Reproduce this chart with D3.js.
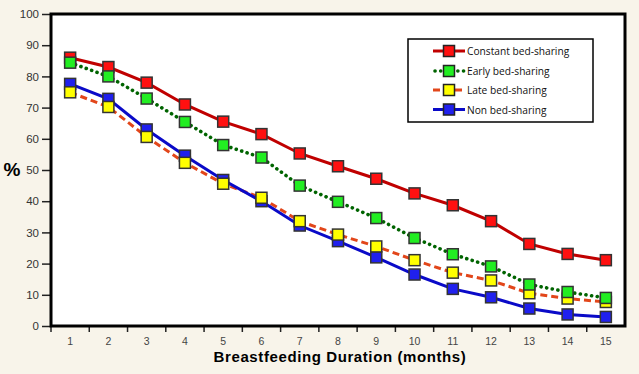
<!DOCTYPE html>
<html>
<head>
<meta charset="utf-8">
<script src="https://cdn.jsdelivr.net/npm/d3@7"></script>
<style>
  body { margin: 0; background: #f8f4ea; }
  svg { display: block; }
  .tick text { font-family: "Liberation Sans", Arial, sans-serif; fill: #333; }
</style>
</head>
<body>
<svg id="chart" width="639" height="374"></svg>
<script>
// months on the x axis
var months = [1, 2, 3, 4, 5, 6, 7, 8, 9, 10, 11, 12, 13, 14, 15];
var yTicks = [0, 10, 20, 30, 40, 50, 60, 70, 80, 90, 100];

// percent still breastfeeding
var constantBed = [86, 83, 78, 71, 65.5, 61.5, 55.3, 51.2, 47.2, 42.5, 38.7, 33.6, 26.3, 23.1, 21.1];
var earlyBed    = [84.4, 80, 72.9, 65.4, 58, 54, 45, 39.8, 34.6, 28.2, 23, 19.1, 13.3, 10.9, 9];
var lateBed     = [74.9, 70.2, 60.6, 52.3, 45.6, 41.1, 33.6, 29.3, 25.5, 21.1, 17.1, 14.6, 10.5, 8.8, 7.7];
var nonBed      = [77.6, 72.8, 63, 54.6, 46.8, 40, 32.2, 27.2, 22, 16.5, 11.9, 9.2, 5.6, 3.7, 2.9];

var series = [
  { name: "Constant bed-sharing", values: constantBed, line: "#c00000", fill: "#ff1010", dash: null },
  { name: "Early bed-sharing", values: earlyBed, line: "#006400", fill: "#22ee22", dash: "0.1 5.6" },
  { name: "Late bed-sharing", values: lateBed, line: "#e2461a", fill: "#ffff00", dash: "7 4" },
  { name: "Non bed-sharing", values: nonBed, line: "#0a0ac8", fill: "#2020ee", dash: null }
];

var svg = d3.select("#chart");
var margin = { left: 51, top: 14, right: 14, bottom: 48 };
var width = 639 - margin.left - margin.right;
var height = 374 - margin.top - margin.bottom;

var x = d3.scaleBand().domain(months).range([0, width]);
var y = d3.scaleLinear().domain([0, 100]).range([height, 0]);

var g = svg.append("g").attr("transform", "translate(" + margin.left + "," + margin.top + ")");

g.append("rect")
  .attr("width", width).attr("height", height)
  .attr("fill", "#fff");

// y axis
var yAxis = g.append("g")
  .call(d3.axisLeft(y).tickValues(yTicks).tickSize(9).tickPadding(3));
yAxis.select(".domain").remove();
yAxis.selectAll(".tick line").attr("stroke", "#222").attr("stroke-width", 1.5);
yAxis.selectAll(".tick text").style("font-size", "11.5px");

// x axis: ticks on band boundaries, labels in band centres
var xAxis = g.append("g")
  .attr("transform", "translate(0," + height + ")")
  .call(d3.axisBottom(x).tickSize(0).tickPadding(12));
xAxis.select(".domain").remove();
xAxis.selectAll(".tick text").style("font-size", "10.5px").style("fill", "#444");
g.append("g")
  .selectAll("line")
  .data(months)
  .enter().append("line")
  .attr("x1", function (d) { return x(d); })
  .attr("x2", function (d) { return x(d); })
  .attr("y1", height).attr("y2", height + 6)
  .attr("stroke", "#222").attr("stroke-width", 1.5);

var line = d3.line()
  .x(function (d, i) { return x(months[i]) + x.bandwidth() / 2; })
  .y(function (d) { return y(d); });

// lines: orange dashed sits under the blue one
var lineOrder = [0, 2, 1, 3];
lineOrder.forEach(function (k) {
  var s = series[k];
  g.append("path")
    .datum(s.values)
    .attr("fill", "none")
    .attr("stroke", s.line)
    .attr("stroke-width", k === 1 ? 3.6 : 3)
    .attr("stroke-linecap", k === 1 ? "round" : "butt")
    .attr("stroke-dasharray", s.dash)
    .attr("d", line);
});

// markers: green over yellow over blue
var markOrder = [0, 3, 2, 1];
var ms = 11;
markOrder.forEach(function (k) {
  var s = series[k];
  g.append("g")
    .selectAll("rect")
    .data(s.values)
    .enter().append("rect")
    .attr("x", function (d, i) { return x(months[i]) + x.bandwidth() / 2 - ms / 2; })
    .attr("y", function (d) { return y(d) - ms / 2; })
    .attr("width", ms).attr("height", ms)
    .attr("fill", s.fill)
    .attr("stroke", "#333")
    .attr("stroke-width", 1.5);
});

// frame
g.append("rect")
  .attr("width", width).attr("height", height)
  .attr("fill", "none")
  .attr("stroke", "#000")
  .attr("stroke-width", 3);

// legend
var legend = g.append("g").attr("transform", "translate(" + (408 - margin.left) + "," + (39 - margin.top) + ")");
legend.append("rect")
  .attr("width", 185).attr("height", 83)
  .attr("fill", "#fff").attr("stroke", "#000").attr("stroke-width", 1.5);
var rowY = [12, 32, 51, 70.5];
series.forEach(function (s, k) {
  var row = legend.append("g").attr("transform", "translate(0," + rowY[k] + ")");
  row.append("line")
    .attr("x1", k === 1 ? 27 : 25).attr("x2", 57)
    .attr("stroke", s.line)
    .attr("stroke-width", k === 1 ? 3.6 : 3)
    .attr("stroke-linecap", k === 1 ? "round" : "butt")
    .attr("stroke-dasharray", s.dash);
  row.append("rect")
    .attr("x", 41 - ms / 2).attr("y", -ms / 2)
    .attr("width", ms).attr("height", ms)
    .attr("fill", s.fill).attr("stroke", "#222").attr("stroke-width", 1.5);
  row.append("text")
    .attr("x", 59)
    .attr("y", 4)
    .style("font-family", "'Open Sans', sans-serif")
    .style("font-size", "10.2px")
    .style("fill", "#111")
    .text(s.name);
});

// axis titles
svg.append("text")
  .attr("x", 12).attr("y", 176)
  .attr("text-anchor", "middle")
  .style("font-family", "'Liberation Sans', Arial, sans-serif")
  .style("font-weight", "bold")
  .style("font-size", "19px")
  .text("%");

svg.append("text")
  .attr("x", margin.left + width / 2 + 2).attr("y", 362)
  .attr("text-anchor", "middle")
  .style("font-family", "'Liberation Sans', Arial, sans-serif")
  .style("font-weight", "bold")
  .style("font-size", "15px")
  .style("letter-spacing", "0.6px")
  .text("Breastfeeding Duration (months)");
</script>
</body>
</html>
